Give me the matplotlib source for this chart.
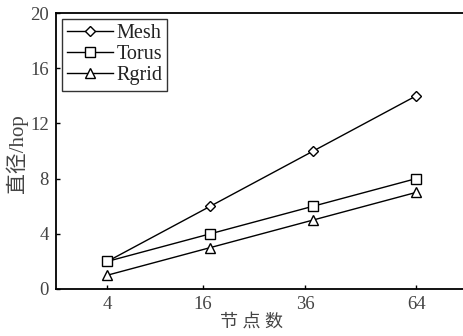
import matplotlib
matplotlib.use("Agg")
import matplotlib.pyplot as plt
import numpy as np

# datos
nodes = ["4", "16", "36", "64"]
mesh = [2, 6, 10, 14]
torus = [2, 4, 6, 8]
rgrid = [1, 3, 5, 7]
y_ticks = [0, 4, 8, 12, 16, 20]

plt.rcParams['font.family'] = ['Liberation Serif', 'Noto Sans CJK SC']
mixed = ['Liberation Serif', 'Noto Sans CJK SC']

fig = plt.figure(figsize=(4.63, 3.36), dpi=100)
ax = fig.add_axes([0.121, 0.140, 0.900, 0.821])

x = np.arange(len(nodes))
ax.plot(x, mesh, marker='D', ms=5.5, label='Mesh', color='black', lw=1.0,
        mfc='white', mec='black', mew=1.0)
ax.plot(x, torus, marker='s', ms=6.5, label='Torus', color='black', lw=1.0,
        mfc='white', mec='black', mew=1.0)
ax.plot(x, rgrid, marker='^', ms=7, label='Rgrid', color='black', lw=1.0,
        mfc='white', mec='black', mew=1.0)

ax.set_xlim(-0.5, 3.55)
ax.set_ylim(0, 20)
ax.set_xticks([0, 0.93, 1.92, 3.0])
ax.set_xticklabels(nodes)
ax.set_yticks(y_ticks)

for s in ax.spines.values():
    s.set_linewidth(1.3)
ax.tick_params(direction='in', length=3, width=1.0, labelsize=13.5, colors='black', pad=5)
for lab in ax.get_xticklabels() + ax.get_yticklabels():
    lab.set_color('#444444')

ax.set_xlabel('节 点 数', family=mixed, fontsize=13, color='#444444')
ax.set_ylabel('直径/hop', family=mixed, fontsize=15, color='#444444')
ax.xaxis.set_label_coords(0.468, -0.088)
ax.yaxis.set_label_coords(-0.067, 0.49)

leg = ax.legend(loc='upper left', fontsize=14.5, frameon=True, fancybox=False,
                edgecolor='black', handlelength=2.3, handletextpad=0.15,
                borderpad=0.25, labelspacing=0.1, borderaxespad=0.3)
leg.get_frame().set_linewidth(1.0)
for t in leg.get_texts():
    t.set_color('#222222')

fig.savefig('out.png', dpi=100)
